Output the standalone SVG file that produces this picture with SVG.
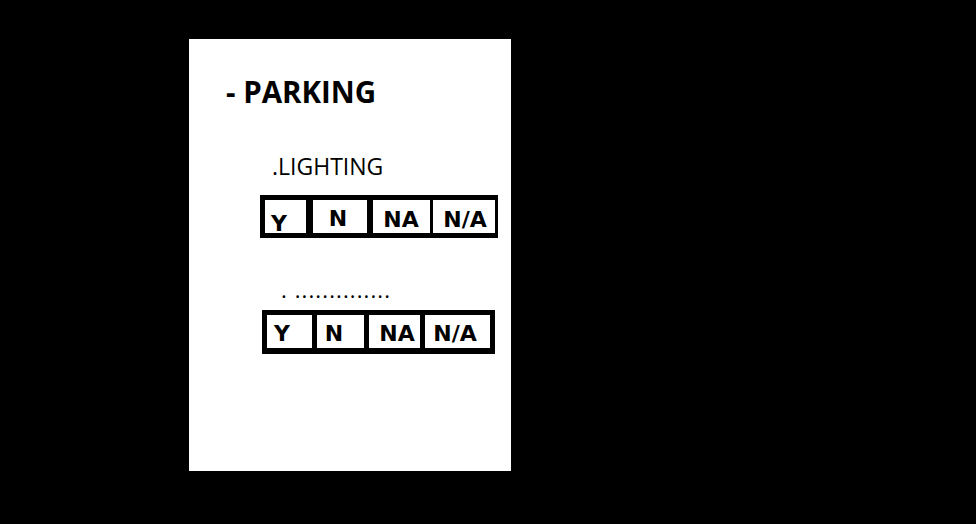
<svg xmlns="http://www.w3.org/2000/svg" width="976" height="524" viewBox="0 0 976 524">
<style>
.t{font-family:"Open Sans","Liberation Sans",sans-serif;fill:#000}
.b{font-weight:bold}
.cell{fill:#fff}
.lbl{font-family:"DejaVu Sans","Liberation Sans",sans-serif;font-weight:bold;font-size:22px;fill:#000;text-anchor:middle}
</style>
<rect x="0" y="0" width="976" height="524" fill="#000"/>
<g id="panel">
<rect x="189" y="39" width="322" height="432" fill="#fff"/>
</g>
<g id="title">
<text class="t b" x="226" y="103" font-size="29.5">- PARKING</text>
</g>
<g id="lighting-label">
<text class="t" x="272" y="175" font-size="23">.LIGHTING</text>
</g>
<g id="row1">
<rect x="260" y="195" width="238" height="43" fill="#000"/>
<rect class="cell" x="265" y="200" width="41" height="33"/>
<rect class="cell" x="313" y="200" width="54" height="33"/>
<rect class="cell" x="373" y="200" width="57" height="33"/>
<rect class="cell" x="433" y="200" width="62" height="33"/>
<text class="lbl" x="279" y="231">Y</text>
<text class="lbl" x="338" y="226">N</text>
<text class="lbl" x="401" y="227">NA</text>
<text class="lbl" x="465" y="227">N/A</text>
</g>
<g id="dots-label">
<text class="t" x="281" y="298" font-size="22" textLength="109">. ..............</text>
</g>
<g id="row2">
<rect x="262" y="310" width="233" height="44" fill="#000"/>
<rect class="cell" x="267" y="315" width="45" height="33"/>
<rect class="cell" x="317" y="315" width="47" height="33"/>
<rect class="cell" x="369" y="315" width="51" height="33"/>
<rect class="cell" x="425" y="315" width="65" height="33"/>
<text class="lbl" x="282" y="341">Y</text>
<text class="lbl" x="334" y="341">N</text>
<text class="lbl" x="397" y="341">NA</text>
<text class="lbl" x="455" y="341">N/A</text>
</g>
</svg>
